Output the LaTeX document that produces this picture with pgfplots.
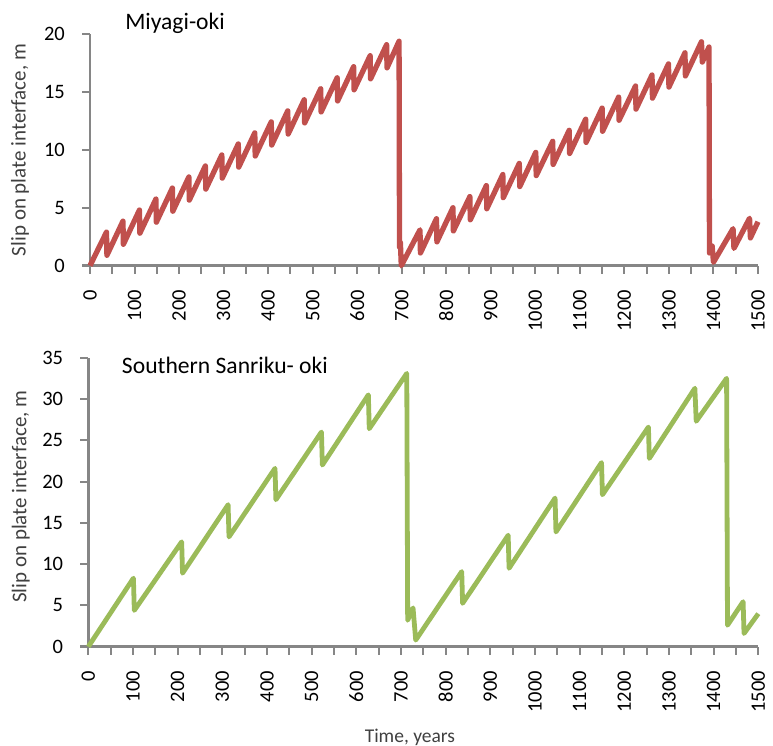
\documentclass[border=0pt]{standalone}
\usepackage{pgfplots}
\pgfplotsset{compat=1.18}
\usepackage{fontspec}
\setmainfont{Carlito}
\definecolor{myred}{HTML}{C0504D}
\definecolor{mygreen}{HTML}{9BBB59}
\definecolor{axgray}{HTML}{868686}
\definecolor{labgray}{HTML}{404040}
\pgfplotsset{
 common/.style={
  scale only axis,
  axis x line=bottom, axis y line=left,
  axis line style={-, axgray, line width=2.5pt},
  tick style={axgray, line width=2pt},
  tick align=outside,
  major tick length=8pt, minor tick length=8pt,
  xmin=0, xmax=1500,
  xtick={0,100,...,1500},
  minor x tick num=1,
  clip=false,
  /pgf/number format/assume math mode=true,
  /pgf/number format/1000 sep={},
  ticklabel style={font=\fontsize{20.5}{24}\selectfont, text=black},
  xticklabel style={rotate=90, anchor=east, inner sep=0pt},
  yticklabel style={anchor=east, inner sep=0pt},
  xticklabel shift=16pt,
  yticklabel shift=17pt,
  label style={font=\fontsize{21}{24}\selectfont, text=labgray},
 }
}
\begin{document}
\begin{tikzpicture}
\useasboundingbox (0,0) rectangle (773pt,746pt);
\begin{axis}[common,
  at={(90pt,480.3pt)}, anchor=south west,
  width=668pt, height=231.4pt,
  ymin=0, ymax=20, ytick={0,5,...,20},
  ylabel={Slip on plate interface, m},
  ylabel style={at={(axis description cs:-0.1048,0.5)}, anchor=center},
]
\draw[axgray, line width=2.5pt] (axis description cs:0,0) -- ++(-8pt,0);
\addplot[myred, line width=5.3pt, line join=round, no marks] coordinates {
(0,0)(37,2.90)(38,0.90)(74,3.85)(75,1.85)(111,4.81)(112,2.81)(148,5.76)(149,3.76)
(185,6.71)(186,4.71)(222,7.67)(223,5.67)(259,8.62)(260,6.62)(296,9.57)(297,7.57)
(333,10.52)(334,8.52)(370,11.48)(371,9.48)(407,12.43)(408,10.43)(444,13.38)(445,11.38)
(481,14.34)(482,12.34)(518,15.29)(519,13.29)(555,16.24)(556,14.24)(592,17.20)(593,15.20)
(629,18.15)(630,16.15)(666,19.10)(667,17.10)(694,19.40)(695,1.60)(697,2.00)(699,0.00)
(741,3.10)(742,1.10)(778,4.06)(779,2.06)(815,5.01)(816,3.01)(853,5.97)(854,3.97)
(890,6.92)(891,4.92)(927,7.88)(928,5.88)(964,8.84)(965,6.84)(1001,9.79)(1002,7.79)
(1039,10.75)(1040,8.75)(1076,11.70)(1077,9.70)(1113,12.66)(1114,10.66)(1150,13.62)(1151,11.62)
(1187,14.57)(1188,12.57)(1225,15.53)(1226,13.53)(1262,16.48)(1263,14.48)(1299,17.44)(1300,15.44)
(1336,18.40)(1337,16.40)(1373,19.35)(1375,17.60)(1390,18.90)(1391,1.10)(1397,1.70)(1400,0.30)
(1444,3.20)(1446,1.50)(1481,4.10)(1483,2.40)(1500,3.80)
};
\node[anchor=base west, font=\fontsize{23.6}{28}\selectfont] at (axis description cs:0.0475,1.0216) {Miyagi-oki};
\end{axis}
\begin{axis}[common,
  at={(88.3pt,99.3pt)}, anchor=south west,
  width=670pt, height=289pt,
  ymin=0, ymax=35, ytick={0,5,...,35},
  ylabel={Slip on plate interface, m},
  ylabel style={at={(axis description cs:-0.1007,0.519)}, anchor=center},
  xlabel={Time, years},
  xlabel style={at={(axis description cs:0.48,-0.3125)}, anchor=center, font=\fontsize{19.5}{22}\selectfont},
]
\draw[axgray, line width=2.5pt] (axis description cs:0,0) -- ++(-8pt,0);
\addplot[mygreen, line width=4.8pt, line join=round, no marks] coordinates {
(0,0)(101,8.3)(103,4.4)(209,12.7)(211,8.9)(313,17.2)(315,13.3)(418,21.6)(420,17.8)
(522,26.0)(524,22.0)(627,30.5)(629,26.4)(713,33.1)(715,3.2)(727,4.7)(733,0.8)
(836,9.1)(838,5.25)(940,13.5)(942,9.5)(1045,18.0)(1047,13.9)(1149,22.3)(1151,18.4)
(1254,26.6)(1256,22.8)(1358,31.3)(1361,27.3)(1429,32.5)(1431,2.6)(1466,5.45)(1468,1.6)(1500,4.0)
};
\node[anchor=base west, font=\fontsize{23.6}{28}\selectfont] at (axis description cs:0.045,0.947) {Southern Sanriku- oki};
\end{axis}
\end{tikzpicture}
\end{document}
